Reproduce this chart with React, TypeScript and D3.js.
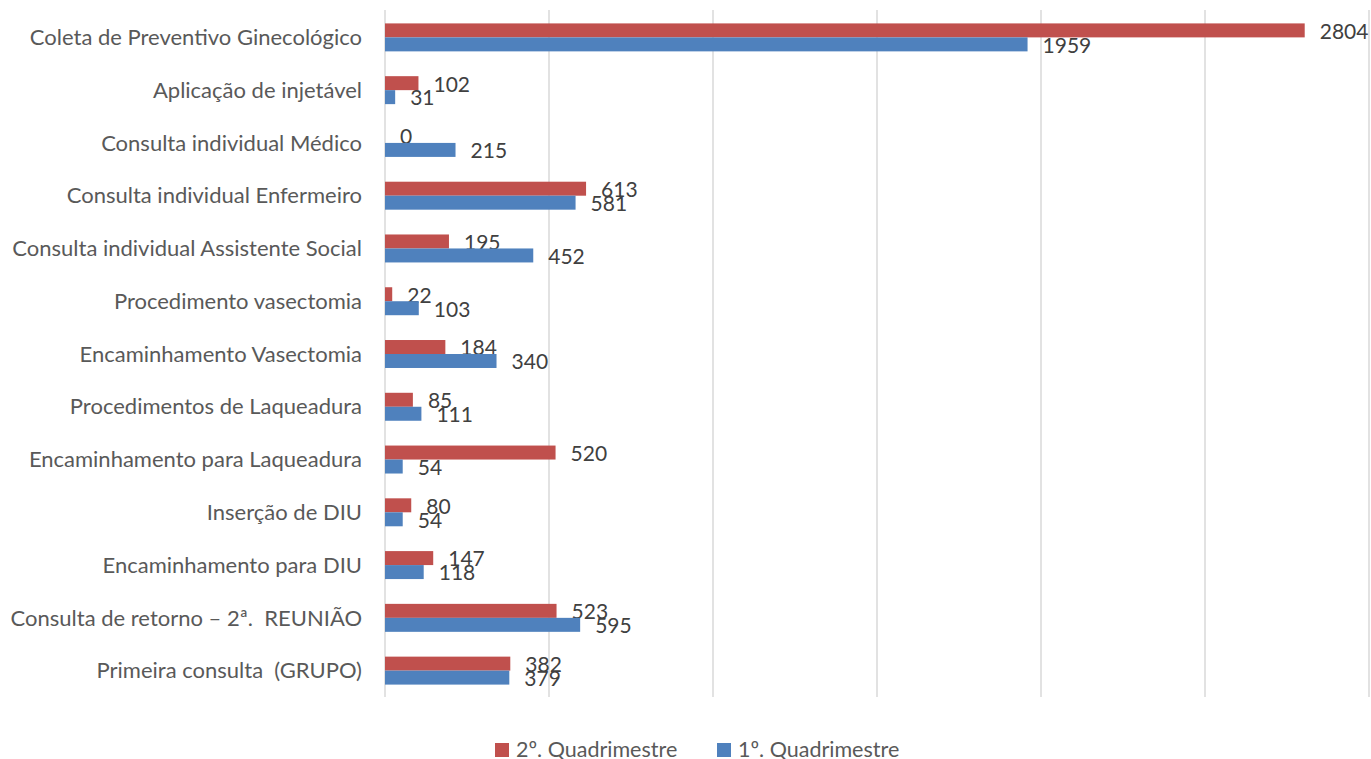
import React from "react";
import * as d3 from "d3";

const categories = [
  "Coleta de Preventivo Ginecológico",
  "Aplicação de injetável",
  "Consulta individual Médico",
  "Consulta individual Enfermeiro",
  "Consulta individual Assistente Social",
  "Procedimento vasectomia",
  "Encaminhamento Vasectomia",
  "Procedimentos de Laqueadura",
  "Encaminhamento para Laqueadura",
  "Inserção de DIU",
  "Encaminhamento para DIU",
  "Consulta de retorno – 2ª.  REUNIÃO",
  "Primeira consulta  (GRUPO)",
];
const q2Values = [2804, 102, 0, 613, 195, 22, 184, 85, 520, 80, 147, 523, 382];
const q1Values = [1959, 31, 215, 581, 452, 103, 340, 111, 54, 54, 118, 595, 379];
const seriesNames = ["2º. Quadrimestre", "1º. Quadrimestre"];
const xTicks = [0, 500, 1000, 1500, 2000, 2500, 3000];

const W = 1371;
const H = 759;
const FONT = "Lato, 'Open Sans', sans-serif";
const colors = ["#C0504D", "#4F81BD"];

export default function App() {
  const x = d3.scaleLinear().domain([0, 3000]).range([385, 1369]);
  const y = d3
    .scaleBand<string>()
    .domain(categories)
    .range([11, 697])
    .paddingInner(0.47)
    .paddingOuter(0.235);
  const sub = d3.scaleBand<number>().domain([0, 1]).range([0, y.bandwidth()]);
  const series = [q2Values, q1Values];

  return (
    <div style={{ position: "absolute", left: 0, top: 0 }}>
      <svg width={W} height={H} style={{ display: "block", background: "#fff" }}>
        {xTicks.map((t) => (
          <line key={t} x1={x(t)} x2={x(t)} y1={10} y2={697} stroke="#D9D9D9" strokeWidth={1.5} />
        ))}
        {categories.map((c, i) => (
          <g key={c}>
            {series.map((vals, s) => {
              const by = (y(c) as number) + (sub(s) as number);
              const bh = sub.bandwidth();
              return (
                <g key={s}>
                  <rect x={x(0)} y={by} width={x(vals[i]) - x(0)} height={bh} fill={colors[s]} />
                  <text
                    x={x(vals[i]) + 15}
                    y={by + bh / 2 + 1}
                    dy="0.35em"
                    fontFamily={FONT}
                    fontSize={21}
                    fill="#404040"
                  >
                    {vals[i]}
                  </text>
                </g>
              );
            })}
            <text
              x={362}
              y={(y(c) as number) + y.bandwidth() / 2}
              dy="0.35em"
              textAnchor="end"
              fontFamily={FONT}
              fontSize={22}
              fill="#595959"
              style={{ whiteSpace: "pre" }}
            >
              {c}
            </text>
          </g>
        ))}
        {seriesNames.map((n, s) => {
          const lx = s === 0 ? 495 : 717;
          return (
            <g key={n}>
              <rect x={lx} y={743} width={14} height={14} fill={colors[s]} />
              <text x={lx + 21} y={749} dy="0.35em" fontFamily={FONT} fontSize={21.5} fill="#595959" style={{ whiteSpace: "pre" }}>
                {n}
              </text>
            </g>
          );
        })}
      </svg>
    </div>
  );
}
